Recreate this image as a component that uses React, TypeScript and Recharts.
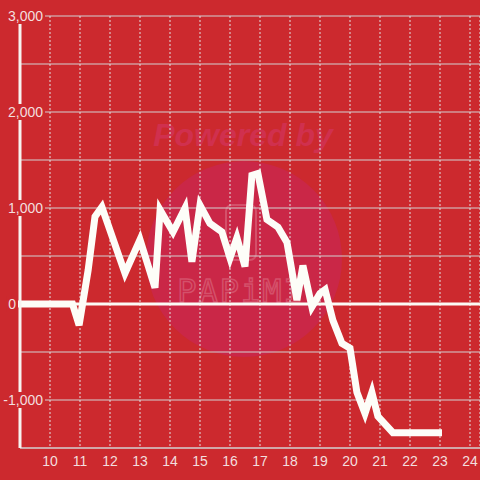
import { LineChart, Line, XAxis, YAxis, CartesianGrid, ReferenceLine } from 'recharts'

const weeks = [
  9, 10.75, 10.97, 11.27, 11.5, 11.73, 12.5, 13.0, 13.5, 13.67, 14.1, 14.5, 14.73, 15.0, 15.33, 15.73,
  16.0, 16.23, 16.5, 16.73, 16.93, 17.23, 17.6, 17.9, 18.23, 18.43, 18.73, 19.0, 19.17, 19.43, 19.73,
  20.0, 20.23, 20.5, 20.73, 20.93, 21.43, 22.95,
]
const values = [
  0, 0, -220, 350, 910, 1010, 320, 670, 170, 980, 750, 1000, 440, 1030, 840, 750,
  480, 690, 390, 1340, 1360, 880, 800, 640, 40, 400, -30, 110, 150, -170, -410,
  -460, -920, -1140, -920, -1170, -1340, -1340,
]
const xTicks = [10, 11, 12, 13, 14, 15, 16, 17, 18, 19, 20, 21, 22, 23, 24]
const yTicks = [-1500, -1000, -500, 0, 500, 1000, 1500, 2000, 2500, 3000]

const data = weeks.map((w, i) => ({ week: w, value: values[i] }))

const BG = '#cc292e'
const LABEL = '#f3dede'

const YTick = (props: any) => {
  const { y, payload } = props
  const v = payload.value
  if (v % 1000 !== 0) return <g />
  const label = v.toLocaleString('en-US')
  const w = label.length * 7.6 + 4
  // the zero label sits left of the axis line
  const right = v === 0 ? 16 : 43
  return (
    <g>
      <rect x={right + 2 - w} y={y - 8} width={w} height={16} fill={BG} />
      <text x={right} y={y} textAnchor="end" dominantBaseline="central" fill={LABEL} fontSize={14}>
        {label}
      </text>
    </g>
  )
}

function Watermark() {
  return (
    <svg width={480} height={480} style={{ position: 'absolute', left: 0, top: 0 }}>
      <circle cx={244} cy={259} r={98} fill="#ca2747" />
      <text
        x={243}
        y={146}
        textAnchor="middle"
        fontSize={32}
        fontWeight="bold"
        fontStyle="italic"
        fill="#d0304e"
        fontFamily="Liberation Sans, Arial, sans-serif"
      >
        Powered by
      </text>
      <rect x={226} y={205} width={30} height={55} rx={6} fill="none" stroke="#d4506a" strokeWidth={2} />
      <text
        x={241}
        y={302}
        textAnchor="middle"
        fontSize={32}
        fill="none"
        stroke="#d4506a"
        strokeWidth={1.5}
        letterSpacing={2}
        fontFamily="DejaVu Sans Mono, monospace"
      >
        PAPiMI
      </text>
    </svg>
  )
}

export default function App() {
  return (
    <div
      style={{
        position: 'fixed',
        left: 0,
        top: 0,
        width: 480,
        height: 480,
        background: BG,
        fontFamily: 'Liberation Sans, Arial, sans-serif',
      }}
    >
      <Watermark />
      <div style={{ position: 'absolute', left: 0, top: 0 }}>
        <LineChart width={480} height={480} data={data} margin={{ top: 16, right: 0, left: 0, bottom: 0 }}>
          <CartesianGrid vertical={false} stroke="#d2d2d2" />
          <CartesianGrid horizontal={false} stroke="#e2e2e2" strokeDasharray="2 2" />
          <XAxis
            dataKey="week"
            type="number"
            domain={[9, 24.3333]}
            ticks={xTicks}
            height={32}
            tickLine={false}
            axisLine={{ stroke: '#d2d2d2' }}
            tick={{ fill: LABEL, fontSize: 14 }}
          />
          <YAxis
            type="number"
            domain={[-1500, 3000]}
            ticks={yTicks}
            width={20}
            tickLine={false}
            axisLine={{ stroke: '#f7f3f0', strokeWidth: 3 }}
            tick={<YTick />}
          />
          <ReferenceLine y={0} stroke="#fbfbf6" strokeWidth={3} />
          <Line
            type="linear"
            dataKey="value"
            stroke="#fdfdf8"
            strokeWidth={7}
            strokeLinecap="square"
            dot={false}
            isAnimationActive={false}
          />
        </LineChart>
      </div>
    </div>
  )
}
